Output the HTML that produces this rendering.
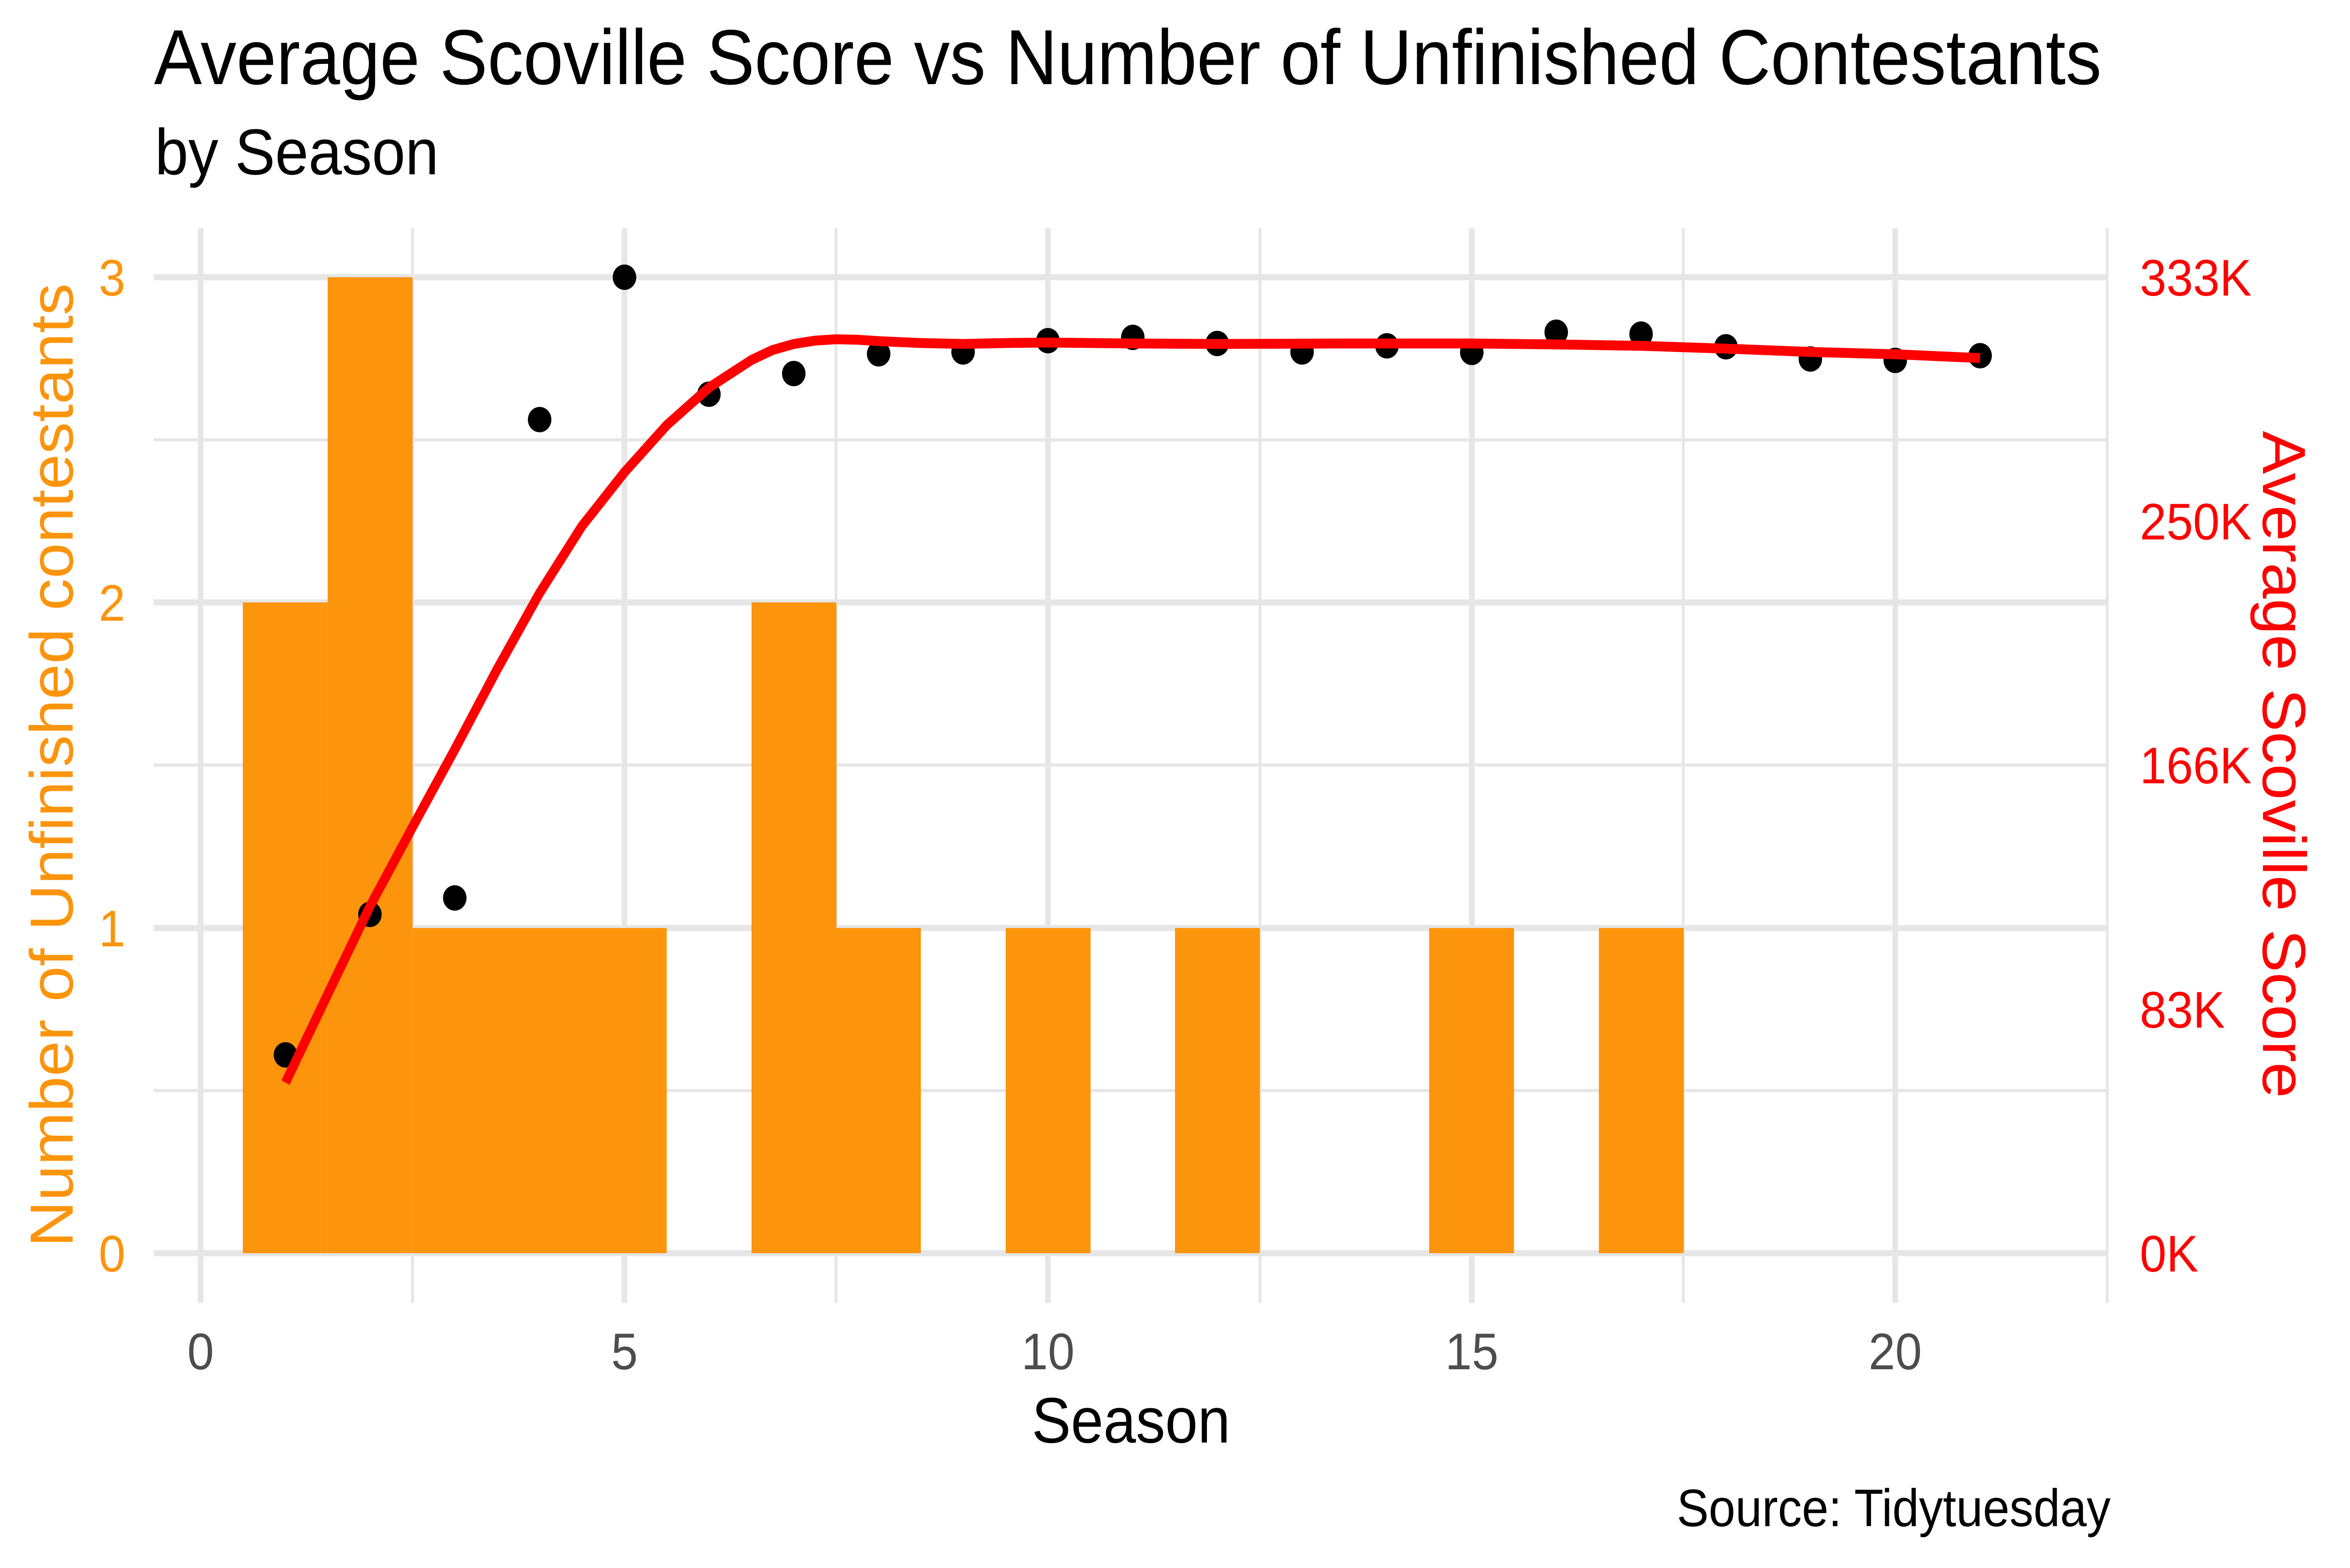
<!DOCTYPE html>
<html><head><meta charset="utf-8"><style>
html,body{margin:0;padding:0;background:#fff;overflow:hidden;width:100%;height:100%;}
svg{display:block;width:100vw;height:100vh;}
text{font-family:"Liberation Sans",Arial,sans-serif;}
</style></head><body>
<svg viewBox="0 0 5400 3337" preserveAspectRatio="none" xmlns="http://www.w3.org/2000/svg">
<rect width="5400" height="3337" fill="#fff"/>
<g stroke="#E6E6E6" stroke-width="6.5">
<line x1="353" x2="4844" y1="2321" y2="2321"/>
<line x1="353" x2="4844" y1="1628" y2="1628"/>
<line x1="353" x2="4844" y1="936" y2="936"/>
<line x1="948" x2="948" y1="486" y2="2773"/>
<line x1="1921" x2="1921" y1="486" y2="2773"/>
<line x1="2895" x2="2895" y1="486" y2="2773"/>
<line x1="3868" x2="3868" y1="486" y2="2773"/>
<line x1="4842" x2="4842" y1="486" y2="2773"/>
</g>
<g stroke="#E6E6E6" stroke-width="13">
<line x1="353" x2="4844" y1="2667" y2="2667"/>
<line x1="353" x2="4844" y1="1975" y2="1975"/>
<line x1="353" x2="4844" y1="1282" y2="1282"/>
<line x1="353" x2="4844" y1="590" y2="590"/>
<line x1="461" x2="461" y1="486" y2="2773"/>
<line x1="1435" x2="1435" y1="486" y2="2773"/>
<line x1="2408" x2="2408" y1="486" y2="2773"/>
<line x1="3382" x2="3382" y1="486" y2="2773"/>
<line x1="4355" x2="4355" y1="486" y2="2773"/>
</g>
<g fill="#FC940C">
<rect x="558" y="1282" width="195" height="1385"/>
<rect x="753" y="590" width="195" height="2077"/>
<rect x="948" y="1975" width="584" height="692"/>
<rect x="1727" y="1282" width="195" height="1385"/>
<rect x="1921" y="1975" width="195" height="692"/>
<rect x="2311" y="1975" width="195" height="692"/>
<rect x="2700" y="1975" width="195" height="692"/>
<rect x="3284" y="1975" width="195" height="692"/>
<rect x="3674" y="1975" width="195" height="692"/>
</g>
<g fill="#000">
<circle cx="656" cy="2245" r="27"/>
<circle cx="850" cy="1946" r="27"/>
<circle cx="1045" cy="1911" r="27"/>
<circle cx="1240" cy="893" r="27"/>
<circle cx="1435" cy="590" r="27"/>
<circle cx="1629" cy="839" r="27"/>
<circle cx="1824" cy="795" r="27"/>
<circle cx="2019" cy="753" r="27"/>
<circle cx="2213" cy="749" r="27"/>
<circle cx="2408" cy="725" r="27"/>
<circle cx="2603" cy="718" r="27"/>
<circle cx="2797" cy="731" r="27"/>
<circle cx="2992" cy="749" r="27"/>
<circle cx="3187" cy="736" r="27"/>
<circle cx="3382" cy="750" r="27"/>
<circle cx="3576" cy="707" r="27"/>
<circle cx="3771" cy="711" r="27"/>
<circle cx="3966" cy="738" r="27"/>
<circle cx="4160" cy="764" r="27"/>
<circle cx="4355" cy="767" r="27"/>
<circle cx="4550" cy="757" r="27"/>
</g>
<polyline fill="none" stroke="#FF0000" stroke-width="21" stroke-linejoin="round"
points="656,2304 753,2116 850,1929 948,1760 1045,1595 1142,1425 1240,1262 1337,1120 1435,1005 1532,905 1629,825 1727,766 1775,745 1824,732 1872,725 1921,722 1970,723 2019,726 2116,730 2213,732 2310,730 2408,729 2505,730 2603,731 2797,732 3090,731 3382,731 3576,733 3771,736 3966,742 4160,749 4355,754 4550,762"/>
<text x="354" y="179" font-size="166" fill="#000" textLength="4475" lengthAdjust="spacingAndGlyphs">Average Scoville Score vs Number of Unfinished Contestants</text>
<text x="356" y="371" font-size="138" fill="#000">by Season</text>
<g font-size="110" fill="#FC940C" text-anchor="end">
<text x="288" y="2706">0</text>
<text x="288" y="2014">1</text>
<text x="288" y="1321">2</text>
<text x="288" y="629">3</text>
</g>
<g font-size="110" fill="#FF0000">
<text x="4917" y="2706">0K</text>
<text x="4917" y="2187">83K</text>
<text x="4917" y="1667">166K</text>
<text x="4917" y="1148">250K</text>
<text x="4917" y="629">333K</text>
</g>
<g font-size="110" fill="#4D4D4D" text-anchor="middle">
<text x="461" y="2914">0</text>
<text x="1435" y="2914">5</text>
<text x="2408" y="2914">10</text>
<text x="3382" y="2914">15</text>
<text x="4355" y="2914">20</text>
</g>
<text x="2371" y="3070" font-size="137" fill="#000" textLength="456" lengthAdjust="spacingAndGlyphs">Season</text>
<text x="3853" y="3248" font-size="112" fill="#000" textLength="997" lengthAdjust="spacingAndGlyphs">Source: Tidytuesday</text>
<text transform="translate(167,2654) rotate(-90)" font-size="140" fill="#FC940C" textLength="2051" lengthAdjust="spacingAndGlyphs">Number of Unfinished contestants</text>
<text transform="translate(5200,917) rotate(90)" font-size="140" fill="#FF0000" textLength="1420" lengthAdjust="spacingAndGlyphs">Average Scoville Score</text>
</svg>
</body></html>
